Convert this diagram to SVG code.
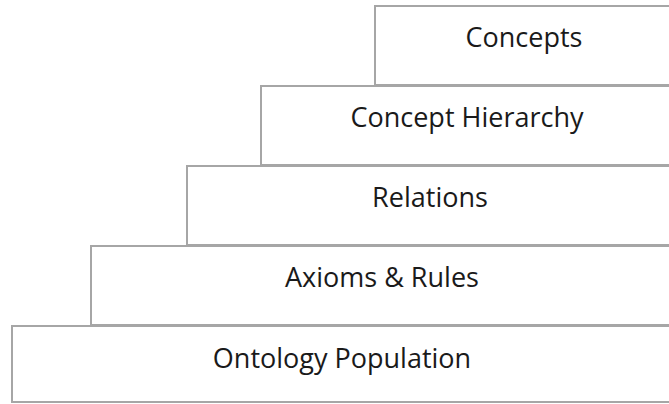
<svg xmlns="http://www.w3.org/2000/svg" width="669" height="404" viewBox="0 0 669 404">
  <style>
    .step rect { fill: #ffffff; stroke: #a6a6a6; stroke-width: 2; }
    .step text { font-family: "Open Sans", "Noto Sans", "DejaVu Sans", sans-serif; font-size: 27px; fill: #1a1a1a; text-anchor: middle; }
  </style>
  <rect width="669" height="404" fill="#ffffff"/>
  <g id="connectors"/>
  <!-- staircase of layers, narrowest on top; right edges run past the canvas -->
  <g id="concepts" class="step">
    <rect x="375" y="6" width="298" height="79"/>
    <text x="524" y="47">Concepts</text>
  </g>
  <g id="concept-hierarchy" class="step">
    <rect x="261" y="86" width="412" height="79"/>
    <text x="467" y="127">Concept Hierarchy</text>
  </g>
  <g id="relations" class="step">
    <rect x="187" y="166" width="486" height="79"/>
    <text x="430" y="207">Relations</text>
  </g>
  <g id="axioms-rules" class="step">
    <rect x="91" y="246" width="582" height="79"/>
    <text x="382" y="287">Axioms &amp; Rules</text>
  </g>
  <g id="ontology-population" class="step">
    <rect x="12" y="326" width="661" height="76"/>
    <text x="342" y="368">Ontology Population</text>
  </g>
</svg>
